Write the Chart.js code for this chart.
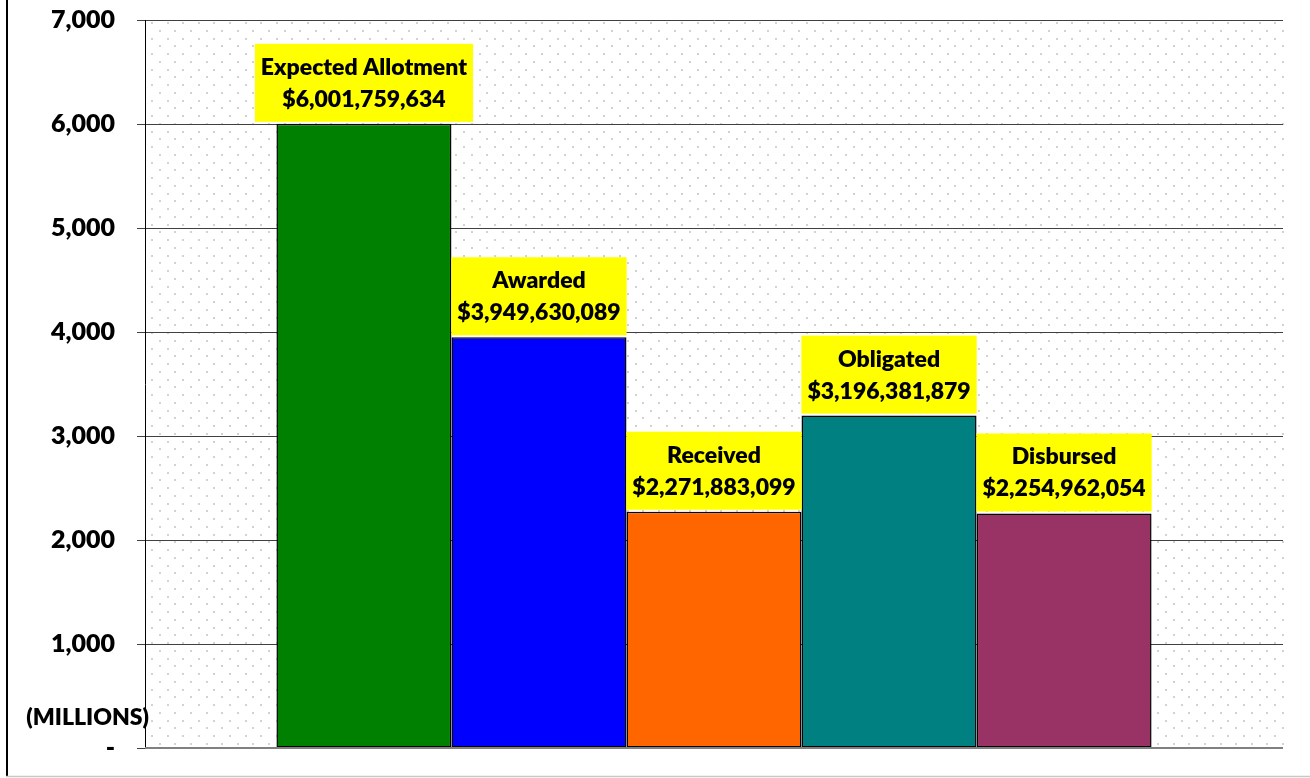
<!DOCTYPE html>
<html lang="en">
<head>
    <meta charset="UTF-8">
    <title>Funds Status</title>
    <script src="https://cdn.jsdelivr.net/npm/chart.js@4/dist/chart.umd.min.js"></script>
    <style>
        * {
            margin: 0;
            padding: 0;
            box-sizing: border-box;
        }

        body {
            background: #ffffff;
            width: 1310px;
            height: 778px;
            overflow: hidden;
        }

        #chart {
            display: block;
        }
    </style>
</head>
<body>
    <canvas id="chart" width="1310" height="778"></canvas>
    <script>
        // data, in dollars
        const stages = ["Expected Allotment", "Awarded", "Received", "Obligated", "Disbursed"];
        const amounts = [6001759634, 3949630089, 2271883099, 3196381879, 2254962054];
        const barColors = ["#008000", "#0000ff", "#ff6600", "#008080", "#993366"];
        const yTicks = [0, 1000, 2000, 3000, 4000, 5000, 6000, 7000];

        const FONT = "Lato, 'DejaVu Sans', sans-serif";
        const WEIGHT = "800";

        const dotsPlugin = {
            id: "dots",
            beforeDraw(chart) {
                const { ctx, chartArea: a } = chart;
                ctx.save();
                ctx.fillStyle = "#ffffff";
                ctx.fillRect(0, 0, chart.width, chart.height);
                ctx.fillStyle = "#d2d2d2";
                const dx = 15.6, dy = 7.75;
                let row = 0;
                for (let y = a.top + 2; y < a.bottom; y += dy, row++) {
                    const off = row % 2 ? dx / 2 : 0;
                    for (let x = a.left + 6 + off; x < a.right; x += dx) {
                        ctx.fillRect(Math.round(x), Math.round(y), 2, 2);
                    }
                }
                ctx.restore();
            },
            afterDraw(chart) {
                const { ctx, chartArea: a } = chart;
                ctx.save();
                // bottom axis line
                ctx.strokeStyle = "#808080";
                ctx.lineWidth = 2;
                ctx.beginPath();
                ctx.moveTo(a.left, a.bottom);
                ctx.lineTo(a.right, a.bottom);
                ctx.stroke();
                // frame
                ctx.strokeStyle = "#000000";
                ctx.lineWidth = 2;
                ctx.beginPath();
                ctx.moveTo(7, 0);
                ctx.lineTo(7, 777);
                ctx.stroke();
                ctx.strokeStyle = "#c8c8c8";
                ctx.lineWidth = 1.5;
                ctx.beginPath();
                ctx.moveTo(6, 776.5);
                ctx.lineTo(1310, 776.5);
                ctx.stroke();
                // units label
                ctx.fillStyle = "#000000";
                ctx.font = WEIGHT + " 23px " + FONT;
                ctx.textAlign = "right";
                ctx.textBaseline = "middle";
                ctx.fillText("(MILLIONS)", 149, 718);
                ctx.restore();
            }
        };

        const labelPlugin = {
            id: "boxLabels",
            afterDatasetsDraw(chart) {
                const { ctx } = chart;
                ctx.save();
                ctx.font = WEIGHT + " 23px " + FONT;
                ctx.textAlign = "center";
                ctx.textBaseline = "alphabetic";
                chart.data.datasets.forEach((ds, i) => {
                    const bar = chart.getDatasetMeta(i).data[0];
                    const line1 = stages[i];
                    const line2 = "$" + amounts[i].toLocaleString("en-US");
                    const w = Math.max(ctx.measureText(line1).width, ctx.measureText(line2).width) + 12;
                    const h = 78;
                    const top = bar.y - 2 - h;
                    ctx.fillStyle = "#ffff00";
                    ctx.fillRect(bar.x - w / 2, top, w, h);
                    ctx.fillStyle = "#000000";
                    ctx.fillText(line1, bar.x, top + 31);
                    ctx.fillText(line2, bar.x, top + 63);
                });
                ctx.restore();
            }
        };

        new Chart(document.getElementById("chart"), {
            type: "bar",
            data: {
                labels: [""],
                datasets: stages.map((s, i) => ({
                    label: s,
                    data: [amounts[i] / 1e6],
                    backgroundColor: barColors[i],
                    borderColor: "#000000",
                    borderWidth: 1.5,
                    borderSkipped: false,
                    categoryPercentage: 0.769,
                    barPercentage: 1.0
                }))
            },
            options: {
                responsive: false,
                animation: false,
                layout: { padding: { left: 0, top: 20, right: 27, bottom: 30 } },
                plugins: {
                    legend: { display: false },
                    tooltip: { enabled: false }
                },
                scales: {
                    x: { display: false },
                    y: {
                        min: yTicks[0],
                        max: yTicks[yTicks.length - 1],
                        afterBuildTicks: (scale) => {
                            scale.ticks = yTicks.map(v => ({ value: v }));
                        },
                        afterFit: (scale) => {
                            scale.width = 145;
                            scale.paddingTop = 0;
                            scale.paddingBottom = 0;
                        },
                        ticks: {
                            color: "#000000",
                            padding: 22,
                            font: { family: FONT, size: 25, weight: WEIGHT },
                            callback: (v) => v === 0 ? "-" : v.toLocaleString("en-US")
                        },
                        grid: {
                            color: "#404040",
                            tickColor: "#404040",
                            tickLength: 8
                        },
                        border: { color: "#000000", width: 1 }
                    }
                }
            },
            plugins: [dotsPlugin, labelPlugin]
        });
    </script>
</body>
</html>
